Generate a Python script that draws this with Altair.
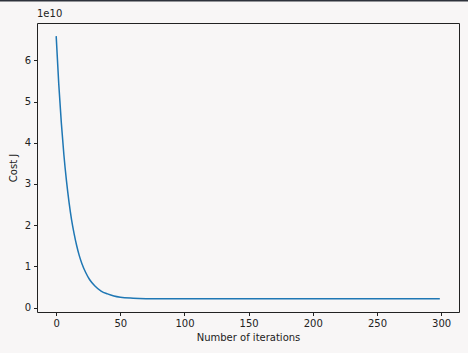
import altair as alt
import pandas as pd

iterations = [0, 2, 4, 6, 8, 10, 12, 14, 16, 18, 20, 23, 26, 30, 35, 40, 45, 50, 60, 70, 80, 100, 150, 200, 250, 299]
cost_e10 = [6.59, 5.43, 4.49, 3.71, 3.08, 2.56, 2.13, 1.79, 1.50, 1.26, 1.07, 0.85, 0.68, 0.53, 0.40, 0.33, 0.28, 0.25,
            0.226, 0.215, 0.212, 0.21, 0.21, 0.21, 0.21, 0.21]
x_ticks = [0, 50, 100, 150, 200, 250, 300]
y_ticks = [0, 1e10, 2e10, 3e10, 4e10, 5e10, 6e10]

df = pd.DataFrame({"it": iterations, "cost": [c * 1e10 for c in cost_e10]})

font = "DejaVu Sans"

line = alt.Chart(df).mark_line(color="#1f77b4", strokeWidth=1.5, interpolate="monotone").encode(
    x=alt.X("it:Q", scale=alt.Scale(domain=[-14.95, 313.95], nice=False, zero=False),
            axis=alt.Axis(values=x_ticks, title="Number of iterations", grid=False, tickSize=3.5,
                          tickColor="#222", domainColor="#222", labelColor="#222", titleColor="#222",
                          labelFont=font, titleFont=font, labelFontSize=10, titleFontSize=10,
                          titleFontWeight="normal", labelPadding=3, titlePadding=4, domain=False)),
    y=alt.Y("cost:Q", scale=alt.Scale(domain=[-0.109e10, 6.909e10], nice=False, zero=False),
            axis=alt.Axis(values=y_ticks, title="Cost J", grid=False, tickSize=3.5,
                          labelExpr="format(datum.value / 1e10, 'd')",
                          tickColor="#222", domainColor="#222", labelColor="#222", titleColor="#222",
                          labelFont=font, titleFont=font, labelFontSize=10, titleFontSize=10,
                          titleFontWeight="normal", labelPadding=3, titlePadding=6, domain=False)),
)

offset = alt.Chart(pd.DataFrame({"t": ["1e10"]})).mark_text(
    align="left", baseline="bottom", font=font, fontSize=10, color="#222"
).encode(x=alt.value(0), y=alt.value(-4), text="t:N")

topbar = alt.Chart(pd.DataFrame({"a": [0]})).mark_rule(color="#2e323b", strokeWidth=2).encode(
    x=alt.value(-37), x2=alt.value(431), y=alt.value(-22.5)
)

chart = alt.layer(line, offset, topbar).properties(
    width=422, height=289,
    padding={"left": 37, "top": 23, "right": 9, "bottom": 41},
    autosize=alt.AutoSizeParams(type="none"),
    background="#f8f6f6",
).configure_view(stroke="#222", strokeWidth=1, fill=None)

chart.save("out.html", embed_options={"renderer": "svg", "actions": False})
